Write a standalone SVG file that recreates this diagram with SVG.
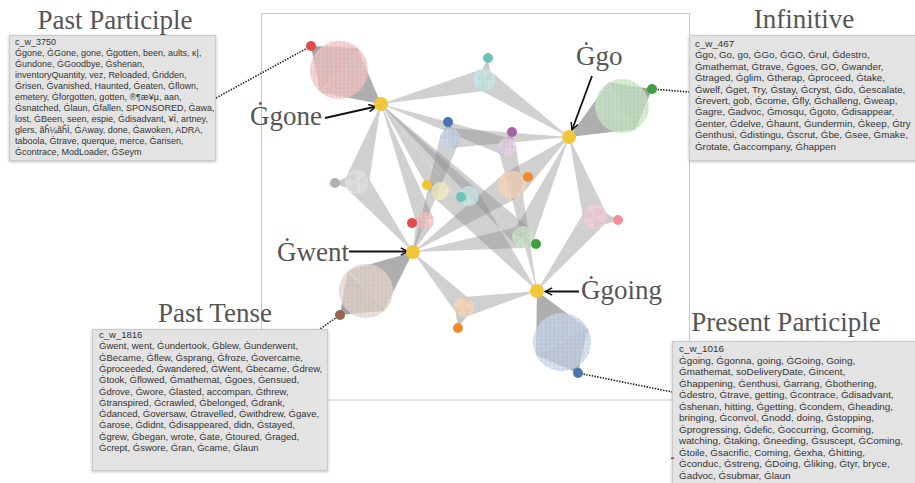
<svg xmlns="http://www.w3.org/2000/svg" width="915" height="483" viewBox="0 0 915 483">
<style>
.band{fill:#8a8a8a;fill-opacity:.4}
.bandB{fill:#7d7d7d;fill-opacity:.62}
.dfan{fill:#808080;fill-opacity:.75}
.dfanS{fill:#8a8a8a;fill-opacity:.45}
.lead{stroke:#1a1a1a;stroke-width:1.6;stroke-dasharray:1.4 1.4;fill:none}
.arr{stroke:#111;stroke-width:1.8;fill:none;marker-end:url(#ah)}
.lbl{font-family:"Liberation Serif","Times New Roman",serif;font-size:27px;fill:#555}
.box{fill:#e3e3e3;stroke:#c9c9c9;stroke-width:1;filter:url(#sh)}
.bt{font-family:"Liberation Sans",Arial,sans-serif;fill:#333}
.hub{fill:#f2c63a}
.st{fill-opacity:.9}
</style>
<defs>
<marker id="ah" viewBox="0 0 10 10" refX="9" refY="5" markerWidth="9" markerHeight="9" markerUnits="userSpaceOnUse" orient="auto"><path d="M1,1 L9,5 L1,9" fill="none" stroke="#111" stroke-width="1.6"/></marker>
<filter id="sh" x="-10%" y="-10%" width="120%" height="120%"><feDropShadow dx="0" dy="1" stdDeviation="1.5" flood-opacity=".25"/></filter>
<g id="dots"><circle cx=".7" cy=".9" r=".5"/><circle cx="2.7" cy=".4" r=".5"/><circle cx="1.7" cy="2.5" r=".5"/><circle cx="3.5" cy="3.2" r=".5"/><circle cx=".4" cy="3.6" r=".45"/><circle cx="3.6" cy="1.7" r=".45"/></g>
<pattern id="pRed" width="4.2" height="4.2" patternUnits="userSpaceOnUse"><use href="#dots" fill="#e07c7c"/></pattern>
<pattern id="pGreen" width="4.2" height="4.2" patternUnits="userSpaceOnUse"><use href="#dots" fill="#86c086"/></pattern>
<pattern id="pBrown" width="4.2" height="4.2" patternUnits="userSpaceOnUse"><use href="#dots" fill="#c09c88"/></pattern>
<pattern id="pBlue" width="4.2" height="4.2" patternUnits="userSpaceOnUse"><use href="#dots" fill="#7c9acb"/></pattern>
<pattern id="pTeal" width="4.2" height="4.2" patternUnits="userSpaceOnUse"><use href="#dots" fill="#8ccfc7"/></pattern>
<pattern id="pPurple" width="4.2" height="4.2" patternUnits="userSpaceOnUse"><use href="#dots" fill="#c79dc7"/></pattern>
<pattern id="pGray" width="4.2" height="4.2" patternUnits="userSpaceOnUse"><use href="#dots" fill="#bdbdbd"/></pattern>
<pattern id="pYellow" width="4.2" height="4.2" patternUnits="userSpaceOnUse"><use href="#dots" fill="#e6d47a"/></pattern>
<pattern id="pOrange" width="4.2" height="4.2" patternUnits="userSpaceOnUse"><use href="#dots" fill="#efb07c"/></pattern>
<pattern id="pPink" width="4.2" height="4.2" patternUnits="userSpaceOnUse"><use href="#dots" fill="#e9a6b2"/></pattern>
</defs>
<rect width="915" height="483" fill="#fff"/>
<rect id="frame" x="261.5" y="13.5" width="428" height="386.5" fill="#fff" stroke="#c8c8c8"/>

<g id="connectors">
<polygon class="bandB" points="381,104 357.3,47.4 320.7,92.6"/>
<polygon class="bandB" points="569,137 635.6,129.3 608.4,82.7"/>
<polygon class="bandB" points="413,252 348.8,270.2 383.2,311.8"/>
<polygon class="bandB" points="537,291 536,354.8 588,329.2"/>
<polygon class="band" points="381,104 486.5,90.7 481.5,69.3"/>
<polygon class="band" points="569,137 490.1,70.9 477.9,89.1"/>
<polygon class="band" points="569,137 450,128 450,148"/>
<polygon class="band" points="413,252 459.5,141.1 440.5,134.9"/>
<polygon class="band" points="381,104 504.1,155.5 509.9,138.5"/>
<polygon class="band" points="537,291 515.8,145.2 498.2,148.8"/>
<polygon class="band" points="381,104 345.5,178.5 368.5,185.5"/>
<polygon class="band" points="413,252 366.4,174.5 347.6,189.5"/>
<polygon class="band" points="381,104 432.5,196.1 447.5,185.9"/>
<polygon class="band" points="537,291 446.5,184.7 433.5,197.3"/>
<polygon class="band" points="381,104 461.8,202.9 476.2,189.1"/>
<polygon class="band" points="537,291 477.1,190.2 460.9,201.8"/>
<polygon class="band" points="569,137 503,174.3 521,195.7"/>
<polygon class="band" points="413,252 519.8,196.6 504.2,173.4"/>
<polygon class="band" points="569,137 583.6,220.7 606.4,213.3"/>
<polygon class="band" points="537,291 604.4,224.4 585.6,209.6"/>
<polygon class="band" points="381,104 416.6,224.2 433.4,217.8"/>
<polygon class="band" points="413,252 433.4,224.3 416.6,217.7"/>
<polygon class="band" points="413,252 524.5,247.9 521.5,226.1"/>
<polygon class="band" points="569,137 513,232.4 533,241.6"/>
<polygon class="band" points="381,104 515.5,245 530.5,229"/>
<polygon class="band" points="413,252 456.7,313.8 471.3,300.2"/>
<polygon class="band" points="537,291 461.9,297.2 466.1,316.8"/>
<polygon class="dfan" points="311,46 320.1,92 357.9,48"/>
<polygon class="dfan" points="652,89 608.7,82.5 635.3,129.5"/>
<polygon class="dfan" points="340,315 384.3,310.8 347.7,271.2"/>
<polygon class="dfan" points="578,373 587.8,328.7 536.2,355.3"/>
<polygon class="dfanS" points="488,58 477,80 491,80"/>
<polygon class="dfanS" points="448,122 441,138 459,138"/>
<polygon class="dfanS" points="512,132 500,147 514,148"/>
<polygon class="dfanS" points="335,183 356,172 356,192"/>
<polygon class="dfanS" points="427,185 438,183 438,199"/>
<polygon class="dfanS" points="461,197 468,187 468,205"/>
<polygon class="dfanS" points="528,177 510,172 514,198"/>
<polygon class="dfanS" points="618,220 594,206 594,228"/>
<polygon class="dfanS" points="412,223 424,213 424,229"/>
<polygon class="dfanS" points="536,244 516,232 528,247"/>
<polygon class="dfanS" points="458,328 455,307 472,309"/>
<polyline class="lead" points="216,98 311,46"/>
<polyline class="lead" points="652,89 689,92"/>
<polyline class="lead" points="340,315 317,331"/>
<polyline class="lead" points="578,373 672,392"/>
<line class="arr" x1="325" y1="118" x2="376" y2="106.5"/>
<line class="arr" x1="592" y1="76" x2="572" y2="130"/>
<line class="arr" x1="349" y1="251.5" x2="408" y2="251.5"/>
<line class="arr" x1="579" y1="291.5" x2="545" y2="291.5"/>
</g>

<g id="cluster-pastparticiple"><circle cx="339" cy="70" r="29" fill="#f5dada" fill-opacity=".7"/><circle class="st" cx="339" cy="70" r="29" fill="url(#pRed)"/><circle cx="311" cy="46" r="5" fill="#e34a4a"/></g>
<g id="cluster-infinitive"><circle cx="622" cy="106" r="27" fill="#dcefd8" fill-opacity=".7"/><circle class="st" cx="622" cy="106" r="27" fill="url(#pGreen)"/><circle cx="652" cy="89" r="5" fill="#3f9f3f"/></g>
<g id="cluster-pasttense"><circle cx="366" cy="291" r="27" fill="#ece4df" fill-opacity=".7"/><circle class="st" cx="366" cy="291" r="27" fill="url(#pBrown)"/><circle cx="340" cy="315" r="5" fill="#946650"/></g>
<g id="cluster-presentparticiple"><circle cx="562" cy="342" r="29" fill="#dee6f1" fill-opacity=".7"/><circle class="st" cx="562" cy="342" r="29" fill="url(#pBlue)"/><circle cx="578" cy="373" r="5" fill="#4b73b0"/></g>
<g id="cluster-teal1"><circle cx="484" cy="80" r="11" fill="#d9f0ed" fill-opacity=".7"/><circle class="st" cx="484" cy="80" r="11" fill="url(#pTeal)"/><circle cx="488" cy="58" r="5" fill="#6cc3ba"/></g>
<g id="cluster-blue"><circle cx="450" cy="138" r="10" fill="#dee6f1" fill-opacity=".7"/><circle class="st" cx="450" cy="138" r="10" fill="url(#pBlue)"/><circle cx="448" cy="122" r="5" fill="#4b73b0"/></g>
<g id="cluster-purple"><circle cx="507" cy="147" r="9" fill="#eee2ee" fill-opacity=".7"/><circle class="st" cx="507" cy="147" r="9" fill="url(#pPurple)"/><circle cx="512" cy="132" r="5" fill="#a463a6"/></g>
<g id="cluster-gray"><circle cx="357" cy="182" r="12" fill="#ececec" fill-opacity=".7"/><circle class="st" cx="357" cy="182" r="12" fill="url(#pGray)"/><circle cx="335" cy="183" r="5" fill="#b7aea6"/></g>
<g id="cluster-yellow"><circle cx="440" cy="191" r="9" fill="#f8f2d4" fill-opacity=".7"/><circle class="st" cx="440" cy="191" r="9" fill="url(#pYellow)"/><circle cx="427" cy="185" r="5" fill="#f0c634"/></g>
<g id="cluster-teal2"><circle cx="469" cy="196" r="10" fill="#d9f0ed" fill-opacity=".7"/><circle class="st" cx="469" cy="196" r="10" fill="url(#pTeal)"/><circle cx="461" cy="197" r="5" fill="#6cc3ba"/></g>
<g id="cluster-orange1"><circle cx="512" cy="185" r="14" fill="#f9e1cc" fill-opacity=".7"/><circle class="st" cx="512" cy="185" r="14" fill="url(#pOrange)"/><circle cx="528" cy="177" r="5" fill="#f18a2b"/></g>
<g id="cluster-pink"><circle cx="595" cy="217" r="12" fill="#f8dde2" fill-opacity=".7"/><circle class="st" cx="595" cy="217" r="12" fill="url(#pPink)"/><circle cx="618" cy="220" r="5" fill="#f48c9c"/></g>
<g id="cluster-red"><circle cx="425" cy="221" r="9" fill="#f6d9d9" fill-opacity=".7"/><circle class="st" cx="425" cy="221" r="9" fill="url(#pRed)"/><circle cx="412" cy="223" r="5" fill="#e34a4a"/></g>
<g id="cluster-green2"><circle cx="523" cy="237" r="11" fill="#e0efdc" fill-opacity=".7"/><circle class="st" cx="523" cy="237" r="11" fill="url(#pGreen)"/><circle cx="536" cy="244" r="5" fill="#3f9f3f"/></g>
<g id="cluster-orange2"><circle cx="464" cy="307" r="10" fill="#f9e1cc" fill-opacity=".7"/><circle class="st" cx="464" cy="307" r="10" fill="url(#pOrange)"/><circle cx="458" cy="328" r="5" fill="#f18a2b"/></g>

<g id="hub-gone"><circle class="hub" cx="381" cy="104" r="7"/><text class="lbl" x="322" y="125" text-anchor="end">Ġgone</text></g>
<g id="hub-go"><circle class="hub" cx="569" cy="137" r="7"/><text class="lbl" x="576" y="65">Ġgo</text></g>
<g id="hub-went"><circle class="hub" cx="413" cy="252" r="7"/><text class="lbl" x="277" y="261">Ġwent</text></g>
<g id="hub-going"><circle class="hub" cx="537" cy="291" r="7"/><text class="lbl" x="581" y="299">Ġgoing</text></g>

<g id="box-pastparticiple">
<text class="lbl" x="115" y="29" text-anchor="middle">Past Participle</text>
<rect class="box" x="9.5" y="35.5" width="206" height="125"/>
<text class="bt" font-size="9" x="15" y="45">
<tspan x="15">c_w_3750</tspan>
<tspan x="15" dy="11">Ġgone, ĠGone, gone, Ġgotten, been, aults, ĸ|,</tspan>
<tspan x="15" dy="11">Ġundone, ĠGoodbye, Ġshenan,</tspan>
<tspan x="15" dy="11">inventoryQuantity, vez, Reloaded, Ġridden,</tspan>
<tspan x="15" dy="11">Ġrisen, Ġvanished, Haunted, Ġeaten, Ġflown,</tspan>
<tspan x="15" dy="11">emetery, Ġforgotten, gotten, ®¶æ¥µ, aan,</tspan>
<tspan x="15" dy="11">Ġsnatched, Ġlaun, Ġfallen, SPONSORED, Ġawa,</tspan>
<tspan x="15" dy="11">lost, ĠBeen, seen, espie, Ġdisadvant, ¥Ī, artney,</tspan>
<tspan x="15" dy="11">glers, ãĥ¼ãĥĪ, ĠAway, done, Ġawoken, ADRA,</tspan>
<tspan x="15" dy="11">taboola, Ġtrave, querque, merce, Ġarisen,</tspan>
<tspan x="15" dy="11">Ġcontrace, ModLoader, ĠSeym</tspan>
</text>
</g>

<g id="box-infinitive">
<text class="lbl" x="804" y="28" text-anchor="middle">Infinitive</text>
<rect class="box" x="689.5" y="35.5" width="235" height="125"/>
<text class="bt" font-size="9.8" x="695" y="47">
<tspan x="695">c_w_467</tspan>
<tspan x="695" dy="11.4">Ġgo, Go, go, ĠGo, ĠGO, Ġrul, Ġdestro,</tspan>
<tspan x="695" dy="11.4">Ġmathemat, Ġtrave, Ġgoes, GO, Ġwander,</tspan>
<tspan x="695" dy="11.4">Ġtraged, Ġglim, Ġtherap, Ġproceed, Ġtake,</tspan>
<tspan x="695" dy="11.4">Ġwelf, Ġget, Try, Ġstay, Ġcryst, Ġdo, Ġescalate,</tspan>
<tspan x="695" dy="11.4">Ġrevert, gob, Ġcome, Ġfly, Ġchalleng, Ġweap,</tspan>
<tspan x="695" dy="11.4">Ġagre, Ġadvoc, Ġmosqu, Ġgoto, Ġdisappear,</tspan>
<tspan x="695" dy="11.4">Ġenter, Ġdelve, Ġhaunt, Ġundermin, Ġkeep, Ġtry</tspan>
<tspan x="695" dy="11.4">Ġenthusi, Ġdistingu, Ġscrut, Ġbe, Ġsee, Ġmake,</tspan>
<tspan x="695" dy="11.4">Ġrotate, Ġaccompany, Ġhappen</tspan>
</text>
</g>

<g id="box-pasttense">
<text class="lbl" x="215" y="322" text-anchor="middle">Past Tense</text>
<rect class="box" x="92.5" y="329.5" width="235" height="141"/>
<text class="bt" font-size="9.5" x="99" y="338">
<tspan x="99">c_w_1816</tspan>
<tspan x="99" dy="11.3">Ġwent, went, Ġundertook, Ġblew, Ġunderwent,</tspan>
<tspan x="99" dy="11.3">ĠBecame, Ġflew, Ġsprang, Ġfroze, Ġovercame,</tspan>
<tspan x="99" dy="11.3">Ġproceeded, Ġwandered, ĠWent, Ġbecame, Ġdrew,</tspan>
<tspan x="99" dy="11.3">Ġtook, Ġflowed, Ġmathemat, Ġgoes, Ġensued,</tspan>
<tspan x="99" dy="11.3">Ġdrove, Ġwore, Ġlasted, accompan, Ġthrew,</tspan>
<tspan x="99" dy="11.3">Ġtranspired, Ġcrawled, Ġbelonged, Ġdrank,</tspan>
<tspan x="99" dy="11.3">Ġdanced, Ġoversaw, Ġtravelled, Ġwithdrew, Ġgave,</tspan>
<tspan x="99" dy="11.3">Ġarose, Ġdidnt, Ġdisappeared, didn, Ġstayed,</tspan>
<tspan x="99" dy="11.3">Ġgrew, Ġbegan, wrote, Ġate, Ġtoured, Ġraged,</tspan>
<tspan x="99" dy="11.3">Ġcrept, Ġswore, Ġran, Ġcame, Ġlaun</tspan>
</text>
</g>

<g id="box-presentparticiple">
<text class="lbl" x="786" y="331" text-anchor="middle">Present Participle</text>
<rect class="box" x="672.5" y="341.5" width="250" height="150"/>
<text class="bt" font-size="9.9" x="679" y="352">
<tspan x="679">c_w_1016</tspan>
<tspan x="679" dy="11.5">Ġgoing, Ġgonna, going, ĠGoing, Going,</tspan>
<tspan x="679" dy="11.5">Ġmathemat, soDeliveryDate, Ġincent,</tspan>
<tspan x="679" dy="11.5">Ġhappening, Ġenthusi, Ġarrang, Ġbothering,</tspan>
<tspan x="679" dy="11.5">Ġdestro, Ġtrave, getting, Ġcontrace, Ġdisadvant,</tspan>
<tspan x="679" dy="11.5">Ġshenan, hitting, Ġgetting, Ġcondem, Ġheading,</tspan>
<tspan x="679" dy="11.5">bringing, Ġconvol, Ġnodd, doing, Ġstopping,</tspan>
<tspan x="679" dy="11.5">Ġprogressing, Ġdefic, Ġoccurring, Ġcoming,</tspan>
<tspan x="679" dy="11.5">watching, Ġtaking, Ġneeding, Ġsuscept, ĠComing,</tspan>
<tspan x="679" dy="11.5">Ġtoile, Ġsacrific, Coming, Ġexha, Ġhitting,</tspan>
<tspan x="679" dy="11.5">Ġconduc, Ġstreng, ĠDoing, Ġliking, Ġtyr, bryce,</tspan>
<tspan x="679" dy="11.5">Ġadvoc, Ġsubmar, Ġlaun</tspan>
</text>
<rect x="671" y="457.5" width="3" height="1.5" fill="#b03020"/>
</g>
</svg>
